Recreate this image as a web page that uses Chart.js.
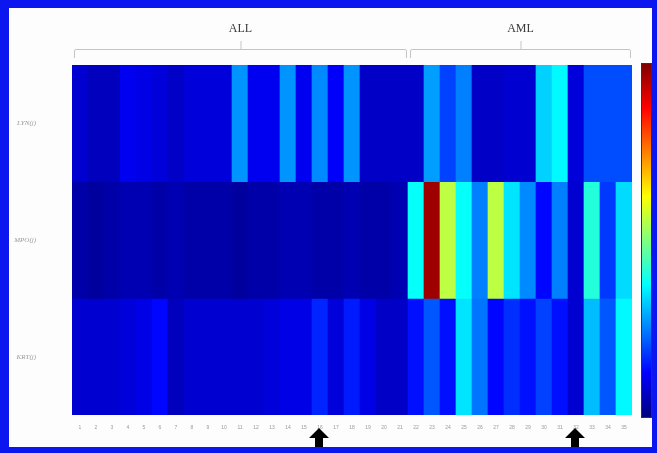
<!DOCTYPE html>
<html><head><meta charset="utf-8">
<script src="https://cdn.jsdelivr.net/npm/chart.js@4/dist/chart.umd.min.js"></script>
<style>
html,body{margin:0;padding:0;background:#fff;}
#frame{position:absolute;left:0;top:0;width:657px;height:453px;box-sizing:border-box;border-style:solid;border-color:#0c16ee;border-width:8px 5px 6px 9px;background:#fdfdfd;}
#wrap{position:absolute;left:0;top:0;width:657px;height:453px;}
#cbar{position:absolute;left:641px;top:63px;width:11px;height:355px;box-sizing:border-box;border:1px solid #333;
background:linear-gradient(to top,#000080 0%,#0000ff 12.5%,#00ffff 37.5%,#ffff00 62.5%,#ff0000 87.5%,#800000 100%);}
</style></head><body>
<div id="frame"></div>
<div id="wrap"><canvas id="c" width="657" height="453"></canvas></div>
<div id="cbar"></div>
<script>
const columns = ['1','2','3','4','5','6','7','8','9','10','11','12','13','14','15','16','17','18','19','20','21','22','23','24','25','26','27','28','29','30','31','32','33','34','35'];
const rowLabels = ['LYN(j)','MPO(j)','KRT(j)'];
const groupLabels = ['ALL','AML'];
const groupSizes = [21,14];
const arrowColumns = ['16','32'];
const row1 = [0.08,0.06,0.06,0.11,0.10,0.09,0.07,0.09,0.09,0.09,0.27,0.11,0.11,0.27,0.11,0.26,0.12,0.27,0.07,0.07,0.07,0.07,0.28,0.19,0.25,0.07,0.07,0.08,0.08,0.33,0.37,0.09,0.20,0.20,0.20];
const row2 = [0.04,0.03,0.04,0.05,0.05,0.04,0.05,0.04,0.04,0.04,0.03,0.04,0.04,0.05,0.05,0.04,0.04,0.05,0.04,0.04,0.05,0.38,0.97,0.56,0.38,0.25,0.56,0.35,0.26,0.13,0.25,0.08,0.41,0.18,0.34];
const row3 = [0.08,0.08,0.08,0.09,0.10,0.13,0.06,0.08,0.08,0.08,0.08,0.08,0.09,0.10,0.10,0.16,0.09,0.15,0.10,0.07,0.07,0.14,0.21,0.14,0.35,0.24,0.13,0.17,0.14,0.19,0.14,0.08,0.31,0.21,0.37];
const rows = [row1,row2,row3];

function jet(v){
  const c = x => Math.round(255*Math.max(0,Math.min(1,x)));
  return `rgb(${c(1.5-Math.abs(4*v-3))},${c(1.5-Math.abs(4*v-2))},${c(1.5-Math.abs(4*v-1))})`;
}

const datasets = rows.map((vals,r)=>({
  data: vals.map(()=>[rows.length-1-r, rows.length-r]),
  backgroundColor: vals.map(jet),
  borderWidth:0, barPercentage:1, categoryPercentage:1, grouped:false
}));

const deco = {
  id:'deco',
  afterDraw(chart){
    const {ctx, chartArea:a, scales:{x}} = chart;
    const w = (a.right-a.left)/columns.length;
    ctx.save();
    let start = 0;
    groupSizes.forEach((n,g)=>{
      const x0 = x.getPixelForValue(start)-w/2+2;
      const x1 = x.getPixelForValue(start+n-1)+w/2-1;
      const xm = (x0+x1)/2;
      ctx.strokeStyle='#c4c4c4'; ctx.lineWidth=1;
      ctx.beginPath();
      ctx.moveTo(x0+0.5,58); ctx.lineTo(x0+0.5,51); ctx.quadraticCurveTo(x0+0.5,49,x0+3,49.5);
      ctx.lineTo(x1-3,49.5); ctx.quadraticCurveTo(x1-0.5,49,x1-0.5,51); ctx.lineTo(x1-0.5,58);
      ctx.moveTo(xm+0.5,49.5); ctx.lineTo(xm+0.5,41);
      ctx.stroke();
      ctx.fillStyle='#3a3a3a'; ctx.font='12px "Liberation Serif"'; ctx.textAlign='center'; ctx.textBaseline='alphabetic';
      ctx.fillText(groupLabels[g], xm, 32);
      start += n;
    });
    ctx.fillStyle='#000';
    arrowColumns.forEach(lbl=>{
      const cx = x.getPixelForValue(columns.indexOf(lbl))-1;
      const t = a.bottom+13;
      ctx.beginPath();
      ctx.moveTo(cx,t); ctx.lineTo(cx+10,t+10); ctx.lineTo(cx+4,t+10); ctx.lineTo(cx+4,t+19);
      ctx.lineTo(cx-4,t+19); ctx.lineTo(cx-4,t+10); ctx.lineTo(cx-10,t+10); ctx.closePath();
      ctx.fill();
    });
    ctx.restore();
  }
};

new Chart(document.getElementById('c'),{
  type:'bar',
  data:{labels:columns, datasets},
  options:{
    responsive:false, animation:false,
    layout:{padding:{left:0,right:25,top:65,bottom:0}},
    plugins:{legend:{display:false},tooltip:{enabled:false}},
    scales:{
      x:{grid:{display:false},border:{display:false},
         ticks:{font:{size:5},color:'#9a9a9a',padding:2,maxRotation:0,minRotation:0,autoSkip:false},
         afterFit:s=>{s.height=38;}},
      y:{min:0,max:3,grid:{display:false},border:{display:false},
         ticks:{stepSize:0.5,padding:28,color:'#9a9a9a',font:{size:7,style:'italic',family:'"Liberation Serif"'},
           callback:v=>{const i=Math.round(2.5-v); return (Math.abs(v%1-0.5)<1e-6)?rowLabels[i]:'';}},
         afterFit:s=>{s.width=72;}}
    }
  },
  plugins:[deco]
});
</script>
</body></html>
